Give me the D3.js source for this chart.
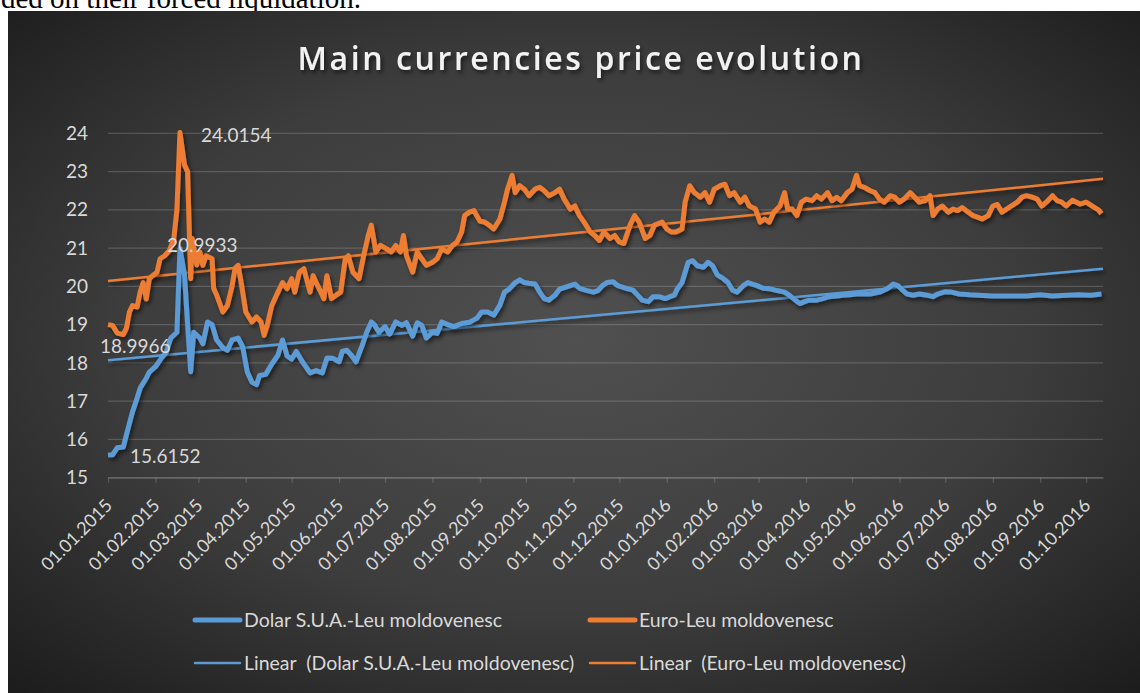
<!DOCTYPE html>
<html>
<head>
<meta charset="utf-8">
<script src="https://cdn.jsdelivr.net/npm/d3@7"></script>
<style>
  body { margin: 0; background: #fff; overflow: hidden; }
  svg { display: block; }
</style>
</head>
<body>
<div id="chart"></div>
<script>
var width = 1140
var height = 693
var plot = { left: 108, right: 1103, top: 133.3, bottom: 477.7 }

var titleText = 'Main currencies price evolution'
var seriesNames = ['Dolar S.U.A.-Leu moldovenesc', 'Euro-Leu moldovenesc']
var trendNames = ['Linear  (Dolar S.U.A.-Leu moldovenesc)', 'Linear  (Euro-Leu moldovenesc)']
var yTicks = [15, 16, 17, 18, 19, 20, 21, 22, 23, 24]
var xStart = '2015-01-01'
var xEnd = '2016-10-12'
var monthTicks = [
  '2015-01-01', '2015-02-01', '2015-03-01', '2015-04-01', '2015-05-01', '2015-06-01',
  '2015-07-01', '2015-08-01', '2015-09-01', '2015-10-01', '2015-11-01', '2015-12-01',
  '2016-01-01', '2016-02-01', '2016-03-01', '2016-04-01', '2016-05-01', '2016-06-01',
  '2016-07-01', '2016-08-01', '2016-09-01', '2016-10-01'
]

// USD / MDL
var usdRates = [
  ['2015-01-01', 15.59], ['2015-01-04', 15.6], ['2015-01-07', 15.78], ['2015-01-11', 15.8],
  ['2015-01-13', 16.12], ['2015-01-17', 16.72], ['2015-01-20', 17.08], ['2015-01-22', 17.34],
  ['2015-01-26', 17.6], ['2015-01-28', 17.76], ['2015-02-01', 17.9], ['2015-02-05', 18.13],
  ['2015-02-08', 18.28], ['2015-02-11', 18.65], ['2015-02-15', 18.8], ['2015-02-17', 20.99],
  ['2015-02-20', 20.3], ['2015-02-22', 19.0], ['2015-02-24', 17.77], ['2015-02-26', 18.8],
  ['2015-03-02', 18.65], ['2015-03-04', 18.5], ['2015-03-07', 19.07], ['2015-03-10', 19.0],
  ['2015-03-13', 18.6], ['2015-03-17', 18.4], ['2015-03-20', 18.33], ['2015-03-23', 18.6],
  ['2015-03-27', 18.65], ['2015-03-30', 18.42], ['2015-04-02', 17.76], ['2015-04-05', 17.5],
  ['2015-04-08', 17.43], ['2015-04-10', 17.67], ['2015-04-14', 17.7], ['2015-04-18', 17.97],
  ['2015-04-22', 18.2], ['2015-04-25', 18.6], ['2015-04-28', 18.18], ['2015-05-01', 18.1],
  ['2015-05-04', 18.3], ['2015-05-08', 18.03], ['2015-05-13', 17.74], ['2015-05-17', 17.8],
  ['2015-05-21', 17.74], ['2015-05-24', 18.13], ['2015-05-28', 18.12], ['2015-06-01', 18.03],
  ['2015-06-03', 18.3], ['2015-06-06', 18.33], ['2015-06-09', 18.2], ['2015-06-12', 18.03],
  ['2015-06-16', 18.45], ['2015-06-19', 18.8], ['2015-06-22', 19.07], ['2015-06-24', 19.0],
  ['2015-06-27', 18.8], ['2015-07-01', 18.95], ['2015-07-04', 18.75], ['2015-07-08', 19.07],
  ['2015-07-12', 18.98], ['2015-07-15', 19.05], ['2015-07-19', 18.7], ['2015-07-22', 19.05],
  ['2015-07-25', 18.98], ['2015-07-28', 18.65], ['2015-08-01', 18.8], ['2015-08-04', 18.77],
  ['2015-08-07', 19.07], ['2015-08-11', 19.0], ['2015-08-15', 18.95], ['2015-08-20', 19.03],
  ['2015-08-25', 19.06], ['2015-08-30', 19.17], ['2015-09-02', 19.33], ['2015-09-06', 19.33],
  ['2015-09-10', 19.25], ['2015-09-14', 19.51], ['2015-09-17', 19.85], ['2015-09-20', 19.93],
  ['2015-09-24', 20.1], ['2015-09-27', 20.17], ['2015-09-30', 20.1], ['2015-10-03', 20.08],
  ['2015-10-07', 20.06], ['2015-10-10', 19.85], ['2015-10-13', 19.68], ['2015-10-16', 19.64],
  ['2015-10-20', 19.77], ['2015-10-23', 19.93], ['2015-10-26', 19.97], ['2015-10-30', 20.02],
  ['2015-11-02', 20.06], ['2015-11-05', 19.95], ['2015-11-10', 19.89], ['2015-11-14', 19.85],
  ['2015-11-17', 19.89], ['2015-11-20', 20.02], ['2015-11-23', 20.1], ['2015-11-27', 20.12],
  ['2015-11-30', 20.02], ['2015-12-03', 19.98], ['2015-12-06', 19.94], ['2015-12-10', 19.9],
  ['2015-12-13', 19.77], ['2015-12-16', 19.64], ['2015-12-20', 19.6], ['2015-12-23', 19.73],
  ['2015-12-27', 19.73], ['2015-12-31', 19.68], ['2016-01-03', 19.73], ['2016-01-06', 19.77],
  ['2016-01-08', 19.94], ['2016-01-11', 20.1], ['2016-01-15', 20.63], ['2016-01-18', 20.67],
  ['2016-01-21', 20.54], ['2016-01-25', 20.5], ['2016-01-28', 20.63], ['2016-01-31', 20.54],
  ['2016-02-03', 20.3], ['2016-02-07', 20.2], ['2016-02-10', 20.1], ['2016-02-13', 19.9],
  ['2016-02-16', 19.85], ['2016-02-20', 20.02], ['2016-02-23', 20.1], ['2016-02-26', 20.06],
  ['2016-02-29', 20.02], ['2016-03-04', 19.95], ['2016-03-08', 19.94], ['2016-03-13', 19.89],
  ['2016-03-18', 19.85], ['2016-03-21', 19.77], ['2016-03-25', 19.64], ['2016-03-28', 19.55],
  ['2016-03-31', 19.6], ['2016-04-03', 19.64], ['2016-04-08', 19.64], ['2016-04-12', 19.68],
  ['2016-04-16', 19.73], ['2016-04-21', 19.75], ['2016-04-25', 19.77], ['2016-04-30', 19.78],
  ['2016-05-04', 19.8], ['2016-05-08', 19.8], ['2016-05-13', 19.8], ['2016-05-19', 19.85],
  ['2016-05-24', 19.94], ['2016-05-28', 20.06], ['2016-05-31', 20.02], ['2016-06-03', 19.9],
  ['2016-06-06', 19.8], ['2016-06-10', 19.77], ['2016-06-14', 19.8], ['2016-06-19', 19.77],
  ['2016-06-23', 19.73], ['2016-06-26', 19.8], ['2016-07-01', 19.86], ['2016-07-05', 19.85],
  ['2016-07-10', 19.8], ['2016-07-17', 19.78], ['2016-07-23', 19.77], ['2016-08-01', 19.75],
  ['2016-08-12', 19.75], ['2016-08-23', 19.75], ['2016-09-01', 19.78], ['2016-09-09', 19.75],
  ['2016-09-18', 19.77], ['2016-09-26', 19.78], ['2016-10-04', 19.77], ['2016-10-11', 19.8]
]

// EUR / MDL
var eurRates = [
  ['2015-01-01', 19.0], ['2015-01-04', 18.98], ['2015-01-07', 18.78], ['2015-01-11', 18.74],
  ['2015-01-13', 18.9], ['2015-01-15', 19.33], ['2015-01-17', 19.5], ['2015-01-20', 19.46],
  ['2015-01-22', 19.85], ['2015-01-24', 20.1], ['2015-01-26', 19.67], ['2015-01-28', 20.2],
  ['2015-01-30', 20.28], ['2015-02-02', 20.37], ['2015-02-04', 20.72], ['2015-02-07', 20.8],
  ['2015-02-10', 20.93], ['2015-02-13', 21.25], ['2015-02-15', 22.0], ['2015-02-17', 24.02],
  ['2015-02-20', 23.17], ['2015-02-22', 23.0], ['2015-02-24', 20.2], ['2015-02-25', 21.25],
  ['2015-02-28', 20.56], ['2015-03-02', 20.9], ['2015-03-04', 20.55], ['2015-03-06', 20.8],
  ['2015-03-10', 20.72], ['2015-03-11', 19.95], ['2015-03-13', 19.77], ['2015-03-17', 19.33],
  ['2015-03-20', 19.5], ['2015-03-23', 20.0], ['2015-03-25', 20.47], ['2015-03-27', 20.55],
  ['2015-03-29', 20.1], ['2015-04-01', 19.33], ['2015-04-05', 19.07], ['2015-04-08', 19.2],
  ['2015-04-11', 19.07], ['2015-04-13', 18.72], ['2015-04-15', 18.98], ['2015-04-18', 19.5],
  ['2015-04-22', 19.85], ['2015-04-25', 20.1], ['2015-04-28', 19.94], ['2015-05-01', 20.2],
  ['2015-05-03', 19.85], ['2015-05-06', 20.37], ['2015-05-09', 20.46], ['2015-05-13', 19.85],
  ['2015-05-15', 20.28], ['2015-05-17', 20.1], ['2015-05-21', 19.77], ['2015-05-22', 19.68],
  ['2015-05-24', 20.28], ['2015-05-27', 19.68], ['2015-05-30', 19.77], ['2015-06-02', 19.85],
  ['2015-06-05', 20.72], ['2015-06-07', 20.8], ['2015-06-10', 20.37], ['2015-06-14', 20.2],
  ['2015-06-17', 20.8], ['2015-06-20', 21.33], ['2015-06-22', 21.6], ['2015-06-25', 20.9],
  ['2015-06-28', 21.07], ['2015-07-02', 20.98], ['2015-07-05', 20.9], ['2015-07-08', 21.07],
  ['2015-07-11', 20.9], ['2015-07-13', 21.33], ['2015-07-15', 20.8], ['2015-07-19', 20.37],
  ['2015-07-22', 20.9], ['2015-07-25', 20.72], ['2015-07-28', 20.55], ['2015-08-01', 20.63],
  ['2015-08-04', 20.72], ['2015-08-07', 20.98], ['2015-08-11', 20.9], ['2015-08-14', 21.07],
  ['2015-08-17', 21.16], ['2015-08-20', 21.42], ['2015-08-22', 21.85], ['2015-08-25', 21.94],
  ['2015-08-28', 21.98], ['2015-09-01', 21.7], ['2015-09-04', 21.68], ['2015-09-07', 21.6],
  ['2015-09-10', 21.5], ['2015-09-14', 21.76], ['2015-09-17', 22.2], ['2015-09-19', 22.54],
  ['2015-09-22', 22.9], ['2015-09-24', 22.45], ['2015-09-27', 22.63], ['2015-09-30', 22.54],
  ['2015-10-03', 22.37], ['2015-10-07', 22.54], ['2015-10-10', 22.59], ['2015-10-13', 22.5],
  ['2015-10-16', 22.37], ['2015-10-20', 22.45], ['2015-10-23', 22.54], ['2015-10-26', 22.28],
  ['2015-10-30', 22.02], ['2015-11-02', 22.1], ['2015-11-05', 21.85], ['2015-11-08', 21.68],
  ['2015-11-12', 21.42], ['2015-11-15', 21.33], ['2015-11-18', 21.2], ['2015-11-21', 21.42],
  ['2015-11-25', 21.25], ['2015-11-28', 21.33], ['2015-12-01', 21.16], ['2015-12-04', 21.12],
  ['2015-12-08', 21.6], ['2015-12-11', 21.85], ['2015-12-14', 21.68], ['2015-12-18', 21.25],
  ['2015-12-21', 21.33], ['2015-12-24', 21.6], ['2015-12-29', 21.68], ['2016-01-01', 21.5],
  ['2016-01-04', 21.42], ['2016-01-07', 21.42], ['2016-01-11', 21.5], ['2016-01-13', 22.2],
  ['2016-01-16', 22.63], ['2016-01-19', 22.45], ['2016-01-23', 22.33], ['2016-01-26', 22.45],
  ['2016-01-29', 22.2], ['2016-02-01', 22.54], ['2016-02-05', 22.63], ['2016-02-08', 22.67],
  ['2016-02-11', 22.37], ['2016-02-14', 22.45], ['2016-02-18', 22.2], ['2016-02-21', 22.33],
  ['2016-02-24', 22.1], ['2016-02-28', 22.02], ['2016-03-02', 21.68], ['2016-03-05', 21.76],
  ['2016-03-08', 21.68], ['2016-03-11', 21.94], ['2016-03-15', 22.1], ['2016-03-18', 22.45],
  ['2016-03-20', 22.02], ['2016-03-23', 22.02], ['2016-03-26', 21.85], ['2016-03-29', 22.2],
  ['2016-04-01', 22.28], ['2016-04-05', 22.24], ['2016-04-08', 22.37], ['2016-04-11', 22.28],
  ['2016-04-15', 22.45], ['2016-04-18', 22.24], ['2016-04-21', 22.33], ['2016-04-24', 22.24],
  ['2016-04-28', 22.45], ['2016-05-01', 22.54], ['2016-05-04', 22.9], ['2016-05-06', 22.63],
  ['2016-05-09', 22.59], ['2016-05-13', 22.5], ['2016-05-16', 22.45], ['2016-05-19', 22.28],
  ['2016-05-22', 22.2], ['2016-05-26', 22.37], ['2016-05-29', 22.33], ['2016-06-01', 22.2],
  ['2016-06-04', 22.28], ['2016-06-08', 22.45], ['2016-06-11', 22.33], ['2016-06-14', 22.2],
  ['2016-06-18', 22.24], ['2016-06-21', 22.37], ['2016-06-23', 21.85], ['2016-06-26', 22.02],
  ['2016-06-29', 22.1], ['2016-07-03', 21.94], ['2016-07-06', 22.02], ['2016-07-09', 21.98],
  ['2016-07-12', 22.06], ['2016-07-16', 21.94], ['2016-07-19', 21.85], ['2016-07-22', 21.81],
  ['2016-07-25', 21.76], ['2016-07-29', 21.85], ['2016-08-01', 22.1], ['2016-08-04', 22.14],
  ['2016-08-07', 21.94], ['2016-08-10', 22.02], ['2016-08-13', 22.1], ['2016-08-17', 22.2],
  ['2016-08-20', 22.33], ['2016-08-23', 22.37], ['2016-08-27', 22.33], ['2016-08-30', 22.28],
  ['2016-09-02', 22.1], ['2016-09-05', 22.2], ['2016-09-09', 22.37], ['2016-09-12', 22.24],
  ['2016-09-15', 22.2], ['2016-09-18', 22.1], ['2016-09-22', 22.25], ['2016-09-27', 22.15],
  ['2016-10-01', 22.2], ['2016-10-05', 22.1], ['2016-10-09', 22.0], ['2016-10-11', 21.9]
]

// linear trend end points
var usdTrend = [['2015-01-01', 18.07], ['2016-10-12', 20.46]]
var eurTrend = [['2015-01-01', 20.14], ['2016-10-12', 22.81]]

// data labels
var labelTexts = ['24.0154', '20.9933', '18.9966', '15.6152']
var labelDates = ['2015-02-17', '2015-02-17', '2015-01-01', '2015-01-01']
var labelValues = [24.0154, 20.9933, 18.9966, 15.6152]

var COLOR = { BLUE: '#5b9bd5', ORANGE: '#ed7d31', TEXT: '#d9d9d9', GRID: 'rgba(255,255,255,0.17)' }
var FONT = 'Lato, "Open Sans", sans-serif'

var parse = d3.timeParse('%Y-%m-%d')
var fmt = d3.timeFormat('%d.%m.%Y')

var svg = d3.select('#chart')
  .append('svg')
  .attr('width', width)
  .attr('height', height)

var defs = svg.append('defs')
var grad = defs.append('radialGradient')
  .attr('id', 'bg')
  .attr('cx', '50%').attr('cy', '48%').attr('r', '72%')
grad.append('stop').attr('offset', '0%').attr('stop-color', '#505050')
grad.append('stop').attr('offset', '55%').attr('stop-color', '#3d3d3d')
grad.append('stop').attr('offset', '100%').attr('stop-color', '#1c1c1c')

var shadow = defs.append('filter').attr('id', 'shadow')
  .attr('x', '-5%').attr('y', '-5%').attr('width', '110%').attr('height', '115%')
shadow.append('feDropShadow')
  .attr('dx', 2).attr('dy', 3).attr('stdDeviation', 2)
  .attr('flood-color', '#000').attr('flood-opacity', 0.55)

// page text above the chart (cut by the chart box, as in the source)
svg.append('text')
  .attr('x', 1)
  .attr('y', 8)
  .attr('font-family', '"Liberation Serif", "Times New Roman", serif')
  .attr('font-size', '29px')
  .attr('fill', '#000')
  .text('ded on their forced liquidation.')

svg.append('rect')
  .attr('x', 8).attr('y', 11)
  .attr('width', width - 8).attr('height', height - 11)
  .attr('fill', 'url(#bg)')

// scales
var x = d3.scaleTime()
  .domain([parse(xStart), parse(xEnd)])
  .range([plot.left, plot.right])

var y = d3.scaleLinear()
  .domain([15, 24])
  .range([plot.bottom, plot.top])

// grid + y labels
svg.append('g')
  .selectAll('line')
  .data(yTicks)
  .enter()
  .append('line')
  .attr('x1', plot.left)
  .attr('x2', plot.right)
  .attr('y1', d => y(d))
  .attr('y2', d => y(d))
  .attr('stroke', COLOR.GRID)
  .attr('stroke-width', 1.3)

svg.append('g')
  .selectAll('text')
  .data(yTicks)
  .enter()
  .append('text')
  .attr('x', 88)
  .attr('y', d => y(d))
  .attr('dy', '0.35em')
  .attr('text-anchor', 'end')
  .attr('font-family', FONT)
  .attr('font-size', '19px')
  .attr('fill', COLOR.TEXT)
  .text(d => d)

// x axis
var xAxis = svg.append('g')
  .attr('transform', 'translate(0,' + y(15) + ')')
  .call(
    d3.axisBottom(x)
      .tickValues(monthTicks.map(parse))
      .tickSize(5)
      .tickSizeOuter(0)
      .tickFormat(fmt)
  )
xAxis.select('.domain').attr('stroke', COLOR.GRID).attr('stroke-width', 1.3)
xAxis.selectAll('.tick line').attr('stroke', COLOR.GRID).attr('stroke-width', 1.3)
xAxis.selectAll('.tick text')
  .attr('x', null).attr('y', null).attr('dy', null)
  .attr('transform', 'translate(5,29) rotate(-45)')
  .attr('text-anchor', 'end')
  .attr('font-family', FONT)
  .attr('font-size', '18px')
  .attr('fill', COLOR.TEXT)

// lines
var line = d3.line()
  .x(d => x(parse(d[0])))
  .y(d => y(d[1]))

var series = [
  { rows: usdTrend, color: COLOR.BLUE, w: 2.5 },
  { rows: eurTrend, color: COLOR.ORANGE, w: 2.5 },
  { rows: usdRates, color: COLOR.BLUE, w: 5 },
  { rows: eurRates, color: COLOR.ORANGE, w: 5 }
]

svg.append('g')
  .selectAll('path')
  .data(series)
  .enter()
  .append('path')
  .attr('d', d => line(d.rows))
  .attr('fill', 'none')
  .attr('stroke', d => d.color)
  .attr('stroke-width', d => d.w)
  .attr('stroke-linejoin', 'round')
  .attr('filter', 'url(#shadow)')

// data labels (placed by hand in the original, so offsets are per label)
var labelOffsets = [[21, 9], [-13, 4], [-8, 28], [22, 9]]
svg.append('g')
  .selectAll('text')
  .data(labelTexts)
  .enter()
  .append('text')
  .attr('x', (d, i) => x(parse(labelDates[i])) + labelOffsets[i][0])
  .attr('y', (d, i) => y(labelValues[i]) + labelOffsets[i][1])
  .attr('font-family', FONT)
  .attr('font-size', '19px')
  .attr('fill', COLOR.TEXT)
  .text(d => d)

// title
svg.append('text')
  .attr('x', 581)
  .attr('y', 70)
  .attr('text-anchor', 'middle')
  .attr('font-family', '"Open Sans", sans-serif')
  .attr('font-weight', 600)
  .attr('font-size', '32px')
  .attr('letter-spacing', '2.6px')
  .attr('fill', '#f2f2f2')
  .attr('filter', 'url(#shadow)')
  .text(titleText)

// legend
var legendItems = [
  { name: seriesNames[0], color: COLOR.BLUE, w: 5, col: 0, row: 0 },
  { name: seriesNames[1], color: COLOR.ORANGE, w: 5, col: 1, row: 0 },
  { name: trendNames[0], color: COLOR.BLUE, w: 2.5, col: 0, row: 1 },
  { name: trendNames[1], color: COLOR.ORANGE, w: 2.5, col: 1, row: 1 }
]
var legendCols = [193, 588]
var legendRows = [620, 663]

var legend = svg.append('g')
  .selectAll('g')
  .data(legendItems)
  .enter()
  .append('g')
  .attr('transform', d => 'translate(' + legendCols[d.col] + ',' + legendRows[d.row] + ')')

legend.append('line')
  .attr('x1', 2).attr('x2', 47)
  .attr('stroke', d => d.color)
  .attr('stroke-width', d => d.w)
  .attr('stroke-linecap', 'round')

legend.append('text')
  .attr('x', 51)
  .attr('dy', '0.35em')
  .attr('font-family', FONT)
  .attr('font-size', '19.5px')
  .attr('fill', COLOR.TEXT)
  .style('white-space', 'pre')
  .text(d => d.name)
</script>
</body>
</html>
